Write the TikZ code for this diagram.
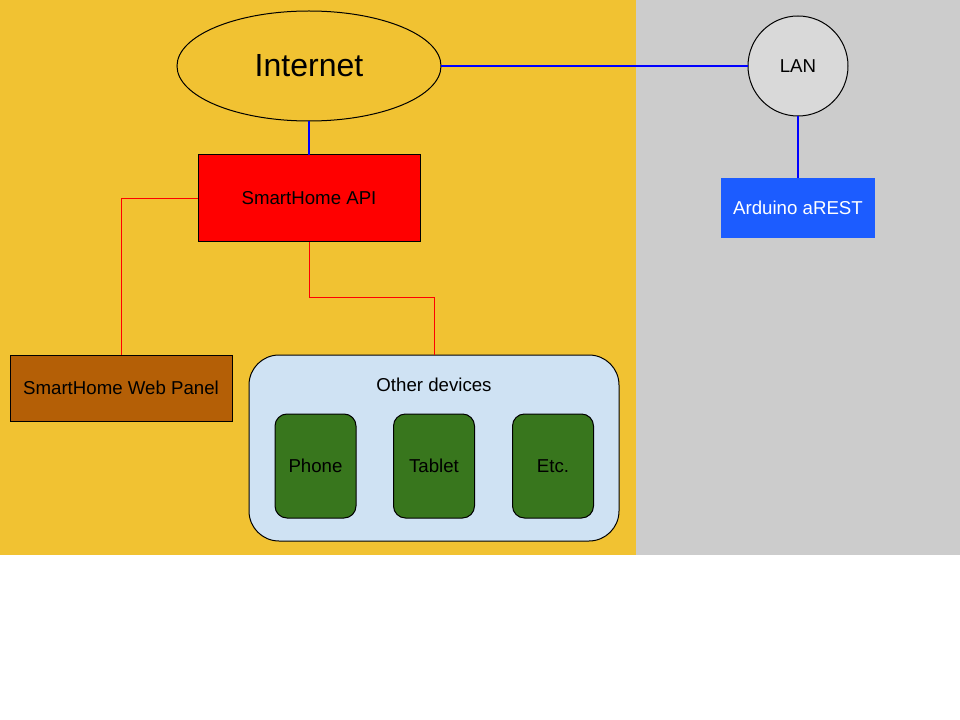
\documentclass[tikz,border=0pt]{standalone}
\usepackage{fontspec}
\setmainfont{Liberation Sans}
\usetikzlibrary{shapes.geometric}
\definecolor{bgyellow}{HTML}{F1C232}
\definecolor{bggray}{HTML}{CCCCCC}
\definecolor{langray}{HTML}{D9D9D9}
\definecolor{ardblue}{HTML}{1C5CFF}
\definecolor{webbrown}{HTML}{B45F06}
\definecolor{devblue}{HTML}{CFE2F3}
\definecolor{devgreen}{HTML}{38761D}
\tikzset{
  base/.style={inner sep=0pt, outer sep=0pt, line width=0.75pt, font=\fontsize{14pt}{16pt}\selectfont},
  boxed/.style={base, draw=black, rectangle},
  devbox/.style={boxed, fill=devgreen, rounded corners=9pt, minimum width=60.75pt, minimum height=78pt},
  blueline/.style={draw=blue, line width=1pt},
  redline/.style={draw=red, line width=0.75pt},
}
\begin{document}
\begin{tikzpicture}[x=0.75pt,y=-0.75pt]
\useasboundingbox (0,0) rectangle (960,720);
\fill[white] (0,0) rectangle (960,720);
\fill[bgyellow] (0,0) rectangle (636,555);
\fill[bggray] (636,0) rectangle (960,555);

\node[base, ellipse, draw=black, fill=bgyellow, minimum width=198pt, minimum height=82.5pt, font=\fontsize{24pt}{28pt}\selectfont] (inet) at (309,66) {Internet};
\node[base, circle, draw=black, fill=langray, minimum size=75pt] (lan) at (798,66) {LAN};
\node[base, fill=ardblue, text=white, minimum width=115.5pt, minimum height=45pt] (ard) at (798,208) {Arduino aREST};
\node[boxed, fill=red, minimum width=166.5pt, minimum height=65.25pt] (api) at (309,198.5) {SmartHome API};
\node[boxed, fill=webbrown, minimum width=166.5pt, minimum height=49.5pt] (web) at (121,388) {SmartHome Web Panel};
\node[boxed, fill=devblue, rounded corners=22.5pt, minimum width=277.5pt, minimum height=139.5pt] (other) at (434,448) {};
\node[base] (otherlabel) at (434,385) {Other devices};
\node[devbox] (phone) at (315.5,466) {Phone};
\node[devbox] (tablet) at (434,466) {Tablet};
\node[devbox] (etc) at (553,466) {Etc.};

\draw[blueline] (inet.east) -- (lan.west);
\draw[blueline] (lan.south) -- (ard.north);
\draw[blueline] (inet.south) -- (api.north);
\draw[redline] (api.west) -| (web.north);
\draw[redline] (api.south) -- ++(0,56) -| (other.north);
\end{tikzpicture}
\end{document}
